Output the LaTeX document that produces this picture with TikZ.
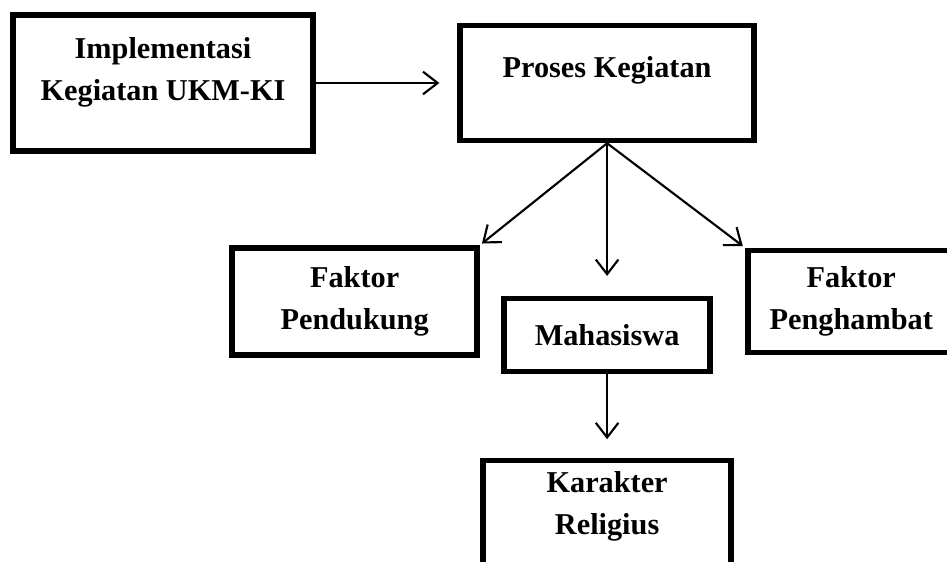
\documentclass[tikz,border=0pt]{standalone}
\usepackage{fontspec}
\setmainfont{Liberation Serif}
\usepackage{tikz}
\usetikzlibrary{arrows.meta,positioning}

\begin{document}
\begin{tikzpicture}[node distance=3cm,on grid,
    >={Straight Barb[length=11pt,width=17pt]},
    blok/.style={draw,line width=4.2pt,align=center,inner sep=0pt,
      font=\fontsize{22.8}{32}\selectfont\bfseries},
    panah/.style={->,line width=1.6pt,shorten >=#1},
    panah/.default=0pt]
      \path[use as bounding box] (-4.313,2.196) rectangle (20.743,-12.673);
      \clip (-4.313,2.196) rectangle (20.743,-12.673);

      \node[blok,minimum width=7.94cm,minimum height=3.60cm,text depth=21pt] (impl) at (0,0) {Implementasi\\Kegiatan UKM-KI};
      \node[blok,minimum width=7.78cm,minimum height=3.04cm,text depth=24pt] (proses) [right=11.75cm of impl] {Proses Kegiatan};
      \node[blok,minimum width=6.48cm,minimum height=2.83cm] (pendukung) [below left=5.78cm and 6.68cm of proses] {Faktor\\Pendukung};
      \node[blok,minimum width=5.48cm,minimum height=2.70cm] (penghambat) [below right=5.78cm and 6.46cm of proses] {Faktor\\Penghambat};
      \node[blok,minimum width=5.45cm,minimum height=1.93cm] (mhs) [below=6.67cm of proses] {Mahasiswa};
      \node[blok,minimum width=6.56cm,minimum height=2.78cm,text depth=15pt] (karakter) [below=4.71cm of mhs] {Karakter\\Religius};

      \path[panah=13.5pt] (impl) edge (proses);
      \path[panah=2pt] (proses.south) edge (pendukung.north east);
      \path[panah=15pt] (proses.south) edge (mhs.north);
      \path[panah=2pt] (proses.south) edge (penghambat.north west);
      \path[panah=14pt] (mhs) edge (karakter);
    \end{tikzpicture}
\end{document}
